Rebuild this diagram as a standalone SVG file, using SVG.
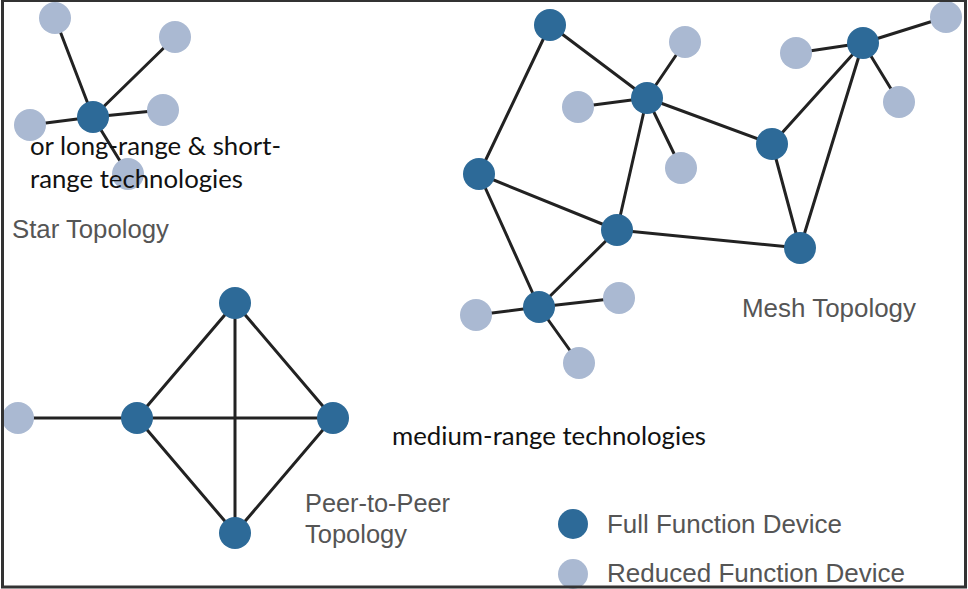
<svg xmlns="http://www.w3.org/2000/svg" width="968" height="589" viewBox="0 0 968 589">
<style>
.ffd{fill:#2d6a98}
.rfd{fill:#aab9d2}
.ln{stroke:#222;stroke-width:3;fill:none;stroke-linecap:round}
.lbl{font-family:"Liberation Sans",Arial,sans-serif;font-size:25px;fill:#555}
.ov{font-family:Lato,"Open Sans",sans-serif;font-size:25px;fill:#111}
</style>
<rect x="0" y="0" width="968" height="589" fill="#fff"/>
<g id="connectors" class="ln">
<line x1="93" y1="117" x2="55" y2="18"/>
<line x1="93" y1="117" x2="175" y2="37"/>
<line x1="93" y1="117" x2="163" y2="110"/>
<line x1="93" y1="117" x2="30" y2="125"/>
<line x1="93" y1="117" x2="128" y2="174"/>
<line x1="550" y1="25" x2="479" y2="174"/>
<line x1="550" y1="25" x2="647" y2="98"/>
<line x1="647" y1="98" x2="685" y2="42"/>
<line x1="647" y1="98" x2="578" y2="107"/>
<line x1="647" y1="98" x2="681" y2="168"/>
<line x1="647" y1="98" x2="772" y2="144"/>
<line x1="647" y1="98" x2="617" y2="230"/>
<line x1="772" y1="144" x2="863" y2="43"/>
<line x1="772" y1="144" x2="800" y2="248"/>
<line x1="863" y1="43" x2="800" y2="248"/>
<line x1="863" y1="43" x2="796" y2="53"/>
<line x1="863" y1="43" x2="946" y2="17"/>
<line x1="863" y1="43" x2="899" y2="102"/>
<line x1="479" y1="174" x2="617" y2="230"/>
<line x1="479" y1="174" x2="539" y2="307"/>
<line x1="617" y1="230" x2="539" y2="307"/>
<line x1="617" y1="230" x2="800" y2="248"/>
<line x1="539" y1="307" x2="476" y2="315"/>
<line x1="539" y1="307" x2="619" y2="298"/>
<line x1="539" y1="307" x2="579" y2="363"/>
<line x1="235" y1="303" x2="137" y2="418"/>
<line x1="235" y1="303" x2="333" y2="418"/>
<line x1="235" y1="303" x2="235" y2="533"/>
<line x1="137" y1="418" x2="333" y2="418"/>
<line x1="137" y1="418" x2="235" y2="533"/>
<line x1="333" y1="418" x2="235" y2="533"/>
<line x1="18" y1="418" x2="137" y2="418"/>
</g>
<g id="star">
<circle id="star-r1" class="rfd" cx="55" cy="18" r="16"/>
<circle id="star-r2" class="rfd" cx="175" cy="37" r="16"/>
<circle id="star-r3" class="rfd" cx="163" cy="110" r="16"/>
<circle id="star-r4" class="rfd" cx="30" cy="125" r="16"/>
<circle id="star-r5" class="rfd" cx="128" cy="174" r="16"/>
<circle id="star-hub" class="ffd" cx="93" cy="117" r="16"/>
</g>
<g id="mesh">
<circle id="mesh-r1" class="rfd" cx="685" cy="42" r="16"/>
<circle id="mesh-r2" class="rfd" cx="578" cy="107" r="16"/>
<circle id="mesh-r3" class="rfd" cx="681" cy="168" r="16"/>
<circle id="mesh-r4" class="rfd" cx="796" cy="53" r="16"/>
<circle id="mesh-r5" class="rfd" cx="946" cy="17" r="16"/>
<circle id="mesh-r6" class="rfd" cx="899" cy="102" r="16"/>
<circle id="mesh-r7" class="rfd" cx="476" cy="315" r="16"/>
<circle id="mesh-r8" class="rfd" cx="619" cy="298" r="16"/>
<circle id="mesh-r9" class="rfd" cx="579" cy="363" r="16"/>
<circle id="mesh-a" class="ffd" cx="550" cy="25" r="16"/>
<circle id="mesh-b" class="ffd" cx="647" cy="98" r="16"/>
<circle id="mesh-c" class="ffd" cx="772" cy="144" r="16"/>
<circle id="mesh-d" class="ffd" cx="863" cy="43" r="16"/>
<circle id="mesh-e" class="ffd" cx="479" cy="174" r="16"/>
<circle id="mesh-f" class="ffd" cx="617" cy="230" r="16"/>
<circle id="mesh-g" class="ffd" cx="800" cy="248" r="16"/>
<circle id="mesh-h" class="ffd" cx="539" cy="307" r="16"/>
</g>
<g id="peer">
<circle id="peer-r" class="rfd" cx="18" cy="418" r="16"/>
<circle id="peer-top" class="ffd" cx="235" cy="303" r="16"/>
<circle id="peer-left" class="ffd" cx="137" cy="418" r="16"/>
<circle id="peer-right" class="ffd" cx="333" cy="418" r="16"/>
<circle id="peer-bottom" class="ffd" cx="235" cy="533" r="16"/>
</g>
<g id="labels">
<text class="lbl" x="12" y="238" textLength="157" lengthAdjust="spacingAndGlyphs">Star Topology</text>
<text class="lbl" x="742" y="317" textLength="174" lengthAdjust="spacingAndGlyphs">Mesh Topology</text>
<text class="lbl" x="305" y="512" textLength="145" lengthAdjust="spacingAndGlyphs">Peer-to-Peer</text>
<text class="lbl" x="305" y="543" textLength="102" lengthAdjust="spacingAndGlyphs">Topology</text>
</g>
<g id="legend">
<circle class="ffd" cx="573" cy="524" r="15"/>
<text class="lbl" x="607" y="533" textLength="235" lengthAdjust="spacingAndGlyphs">Full Function Device</text>
<circle class="rfd" cx="573" cy="574" r="15"/>
<text class="lbl" x="607" y="582" textLength="298" lengthAdjust="spacingAndGlyphs">Reduced Function Device</text>
</g>
<g id="overlay-text">
<text class="ov" x="30" y="155" textLength="251" lengthAdjust="spacingAndGlyphs">or long-range &amp; short-</text>
<text class="ov" x="30" y="188" textLength="213" lengthAdjust="spacingAndGlyphs">range technologies</text>
<text class="ov" x="392" y="445" textLength="314" lengthAdjust="spacingAndGlyphs">medium-range technologies</text>
</g>
<rect id="frame" x="2.5" y="0.5" width="963" height="586.5" fill="none" stroke="#333" stroke-width="3"/>
</svg>
